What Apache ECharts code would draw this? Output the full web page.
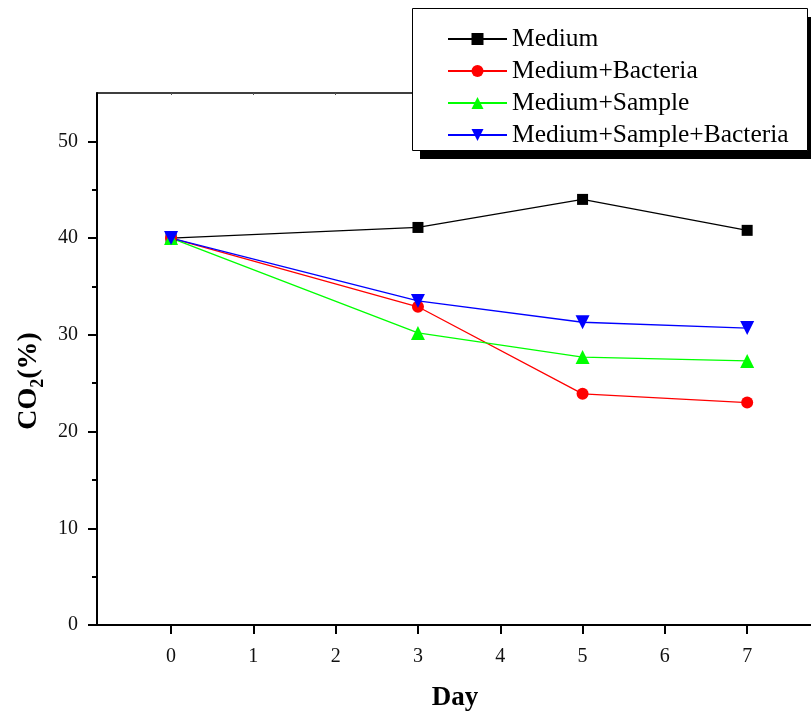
<!DOCTYPE html>
<html>
<head>
<meta charset="utf-8">
<script src="https://cdn.jsdelivr.net/npm/echarts@6/dist/echarts.min.js"></script>
<style>
  html, body { margin: 0; padding: 0; background: #fff; }
  #main { width: 811px; height: 713px; }
</style>
</head>
<body>
<div id="main"></div>
<script>
// data
var days = [0, 3, 5, 7];
var medium = [40, 41.1, 44.0, 40.8];
var mediumBacteria = [40, 32.9, 23.9, 23.0];
var mediumSample = [40, 30.2, 27.7, 27.3];
var mediumSampleBacteria = [40, 33.5, 31.3, 30.7];
var seriesNames = ['Medium', 'Medium+Bacteria', 'Medium+Sample', 'Medium+Sample+Bacteria'];

var xTicks = [0, 1, 2, 3, 4, 5, 6, 7];
var yTicks = [0, 10, 20, 30, 40, 50];
var yMinorTicks = [5, 15, 25, 35, 45];

var font = 'Liberation Serif, Times New Roman, serif';

function pairs(ys) {
  return days.map(function (d, i) { return [d, ys[i]]; });
}

var chart = echarts.init(document.getElementById('main'));

function mkSeries(name, ys, color, symbol, size) {
  return {
    name: name,
    type: 'line',
    xAxisIndex: 0,
    yAxisIndex: 0,
    data: pairs(ys),
    symbol: symbol,
    symbolSize: size,
    lineStyle: { color: color, width: 1.3 },
    itemStyle: { color: color },
    animation: false
  };
}

var option = {
  backgroundColor: '#fff',
  animation: false,
  grid: { left: 97, top: 93, width: 716, height: 532, outerBoundsMode: 'none', containLabel: false },
  // legend frame with the solid drop shadow
  graphic: [
    { type: 'rect', z: 3, shape: { x: 420, y: 17, width: 395, height: 142 }, style: { fill: '#000' } },
    { type: 'rect', z: 3, shape: { x: 412.5, y: 8.5, width: 395, height: 142 }, style: { fill: '#fff', stroke: '#000', lineWidth: 1 } }
  ],
  legend: {
    orient: 'vertical',
    left: 412,
    top: 8,
    z: 4,
    padding: [18, 10, 6, 35],
    itemGap: 6,
    itemWidth: 59,
    itemHeight: 15,
    textStyle: { fontFamily: font, fontSize: 25.5, color: '#000', lineHeight: 24 },
    data: seriesNames
  },
  xAxis: [{
    type: 'value',
    min: -0.9,
    max: 7.8,
    name: 'Day',
    nameLocation: 'middle',
    nameGap: 60,
    nameTextStyle: { fontFamily: font, fontSize: 27, fontWeight: 'bold', color: '#000' },
    splitLine: { show: false },
    axisLine: { show: true, onZero: false, lineStyle: { color: '#000', width: 2 } },
    axisTick: { show: true, length: 9, lineStyle: { color: '#000', width: 2 }, customValues: xTicks },
    axisLabel: { margin: 22, fontFamily: font, fontSize: 20, color: '#111', customValues: xTicks }
  }, {
    type: 'value',
    position: 'top',
    min: -0.9,
    max: 7.8,
    splitLine: { show: false },
    axisLine: { show: true, onZero: false, lineStyle: { color: '#000', width: 1.5 } },
    axisTick: { show: true, inside: true, length: 2, lineStyle: { color: '#555', width: 1 }, customValues: xTicks },
    axisLabel: { show: false }
  }],
  yAxis: [{
    type: 'value',
    min: 0,
    max: 55,
    name: '{a|CO}{b|2}{a|(%)}',
    nameLocation: 'middle',
    nameGap: 49,
    nameTextStyle: {
      padding: [0, 44, 0, 0],
      rich: {
        a: { fontFamily: font, fontSize: 28, fontWeight: 'bold', color: '#000', lineHeight: 36 },
        b: { fontFamily: font, fontSize: 18, fontWeight: 'bold', color: '#000', lineHeight: 18, verticalAlign: 'bottom' }
      }
    },
    splitLine: { show: false },
    axisLine: { show: true, onZero: false, lineStyle: { color: '#000', width: 2 } },
    axisTick: { show: true, length: 9, lineStyle: { color: '#000', width: 2 }, customValues: yTicks },
    axisLabel: { margin: 19, fontFamily: font, fontSize: 20, color: '#111', customValues: yTicks }
  }, {
    type: 'value',
    position: 'left',
    min: 0,
    max: 55,
    splitLine: { show: false },
    axisLine: { show: false, onZero: false },
    axisTick: { show: true, length: 5, lineStyle: { color: '#000', width: 2 }, customValues: yMinorTicks },
    axisLabel: { show: false }
  }],
  series: [
    mkSeries(seriesNames[0], medium, '#000000', 'rect', 11),
    mkSeries(seriesNames[1], mediumBacteria, '#ff0000', 'circle', 12),
    mkSeries(seriesNames[2], mediumSample, '#00ff00', 'triangle', 14),
    mkSeries(seriesNames[3], mediumSampleBacteria, '#0000ff', 'path://M0,0 L10,0 L5,9 Z', 14)
  ]
};

chart.setOption(option);
</script>
</body>
</html>
